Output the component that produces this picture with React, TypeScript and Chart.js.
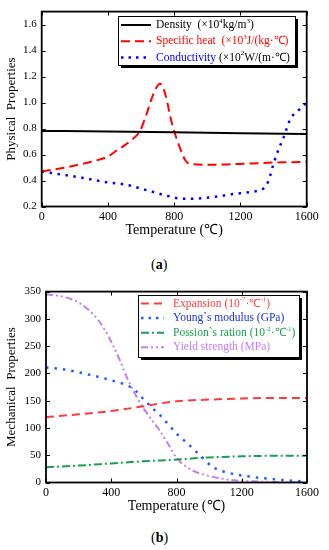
import React, { useEffect, useRef } from "react";
import { Chart, registerables } from "chart.js";

Chart.register(...registerables);

// ---------- data (a) ----------
const tempTicks = [0, 400, 800, 1200, 1600];
const yTicksA = [0.2, 0.4, 0.6, 0.8, 1.0, 1.2, 1.4, 1.6];

const densityT = [0, 400, 800, 1200, 1600];
const densityV = [0.782, 0.777, 0.771, 0.764, 0.758];

const specHeatT = [0, 100, 200, 300, 400, 462, 500, 550, 593, 630, 664, 690, 714, 745, 784, 835, 870, 900, 1000, 1100, 1200, 1300, 1400, 1500, 1600];
const specHeatV = [0.47, 0.49, 0.515, 0.545, 0.585, 0.64, 0.67, 0.72, 0.78, 0.9, 1.03, 1.11, 1.145, 1.07, 0.85, 0.65, 0.55, 0.527, 0.522, 0.523, 0.528, 0.533, 0.538, 0.541, 0.545];

const conductT = [0, 100, 250, 400, 500, 650, 750, 850, 950, 1050, 1150, 1250, 1300, 1340, 1370, 1400, 1430, 1460, 1500, 1550, 1600];
const conductV = [0.47, 0.45, 0.42, 0.385, 0.37, 0.32, 0.285, 0.26, 0.262, 0.275, 0.295, 0.31, 0.32, 0.34, 0.4, 0.53, 0.64, 0.73, 0.87, 0.94, 1.0];

// ---------- data (b) ----------
const yTicksB = [0, 50, 100, 150, 200, 250, 300, 350];

const expansionT = [0, 200, 400, 600, 700, 800, 1000, 1200, 1400, 1600];
const expansionV = [120, 125, 131, 140, 145, 149, 152, 154, 155, 155];

const youngT = [0, 100, 200, 330, 450, 500, 550, 600, 650, 700, 800, 880, 944, 1024, 1128, 1270, 1400, 1515, 1600];
const youngV = [211, 208, 202, 193, 183, 178, 168, 152, 137, 123, 90, 68, 50, 28, 17, 10, 6, 3, 2];

const poissonT = [0, 200, 400, 600, 800, 1000, 1200, 1400, 1600];
const poissonV = [28, 31, 35, 39, 42, 46, 48, 49, 49];

const yieldT = [0, 100, 200, 300, 350, 400, 450, 500, 550, 600, 650, 700, 750, 800, 900, 1000, 1100, 1200, 1400, 1600];
const yieldV = [345, 341, 330, 305, 285, 258, 226, 190, 160, 135, 114, 94, 70, 45, 22, 12, 6, 3, 1, 0];

const FONT = '"Liberation Serif", "Times New Roman", serif';

type Part = { t: string; color: string; sup?: boolean };
type LegendItem = { parts: Part[]; color: string; dash: number[]; width: number };

const legendA: LegendItem[] = [
  { parts: [{ t: "Density  (×10", color: "#000" }, { t: "4", color: "#000", sup: true }, { t: "kg/m", color: "#000" }, { t: "3", color: "#000", sup: true }, { t: ")", color: "#000" }], color: "#000", dash: [], width: 2 },
  { parts: [{ t: "Specific heat  (×10", color: "#ff0000" }, { t: "3", color: "#ff0000", sup: true }, { t: "J/(kg·℃)", color: "#ff0000" }], color: "#ff0000", dash: [9, 5], width: 2 },
  { parts: [{ t: "Conductivity", color: "#0000ff" }, { t: " (×10", color: "#000" }, { t: "2", color: "#000", sup: true }, { t: "W/(m·℃)", color: "#000" }], color: "#0000ff", dash: [2.5, 5], width: 2.5 },
];

const RED_B = "#ff3a3a";
const BLUE_B = "#1f5cff";
const GREEN_B = "#17a050";
const PURPLE_B = "#c67cf2";

const legendB: LegendItem[] = [
  { parts: [{ t: "Expansion (10", color: RED_B }, { t: "-7", color: RED_B, sup: true }, { t: "·℃", color: RED_B }, { t: "-1", color: RED_B, sup: true }, { t: ")", color: RED_B }], color: RED_B, dash: [8, 5], width: 2 },
  { parts: [{ t: "Young`s modulus (GPa)", color: "#1a2fe0" }], color: BLUE_B, dash: [2.5, 5], width: 2.5 },
  { parts: [{ t: "Possion`s ration (10", color: GREEN_B }, { t: "-2", color: GREEN_B, sup: true }, { t: "·℃", color: GREEN_B }, { t: "-1", color: GREEN_B, sup: true }, { t: ")", color: GREEN_B }], color: GREEN_B, dash: [8, 3, 2, 3], width: 2 },
  { parts: [{ t: "Yield strength (MPa)", color: PURPLE_B }], color: PURPLE_B, dash: [7, 3, 2, 3, 2, 3], width: 2 },
];

function pts(xs: number[], ys: number[]) {
  return xs.map((x, i) => ({ x, y: ys[i] }));
}

const framePlugin = {
  id: "frameTicks",
  afterDatasetsDraw(chart: any) {
    const { ctx, chartArea: a, scales } = chart;
    ctx.save();
    ctx.strokeStyle = "#000";
    ctx.lineWidth = 1;
    const L = 4;
    ctx.beginPath();
    scales.x.ticks.forEach((t: any) => {
      const px = Math.round(scales.x.getPixelForValue(t.value)) + 0.5;
      ctx.moveTo(px, a.bottom);
      ctx.lineTo(px, a.bottom - L);
      ctx.moveTo(px, a.top);
      ctx.lineTo(px, a.top + L);
    });
    scales.y.ticks.forEach((t: any) => {
      const py = Math.round(scales.y.getPixelForValue(t.value)) + 0.5;
      ctx.moveTo(a.left, py);
      ctx.lineTo(a.left + L, py);
      ctx.moveTo(a.right, py);
      ctx.lineTo(a.right - L, py);
    });
    ctx.stroke();
    ctx.lineWidth = 1.8;
    ctx.strokeRect(a.left, a.top, a.right - a.left, a.bottom - a.top);
    ctx.restore();
  },
};

function makeLegendPlugin(items: LegendItem[], box: { x: number; y: number; w: number; h: number; rowH: number; firstRow: number; lineX0: number; lineX1: number; textX: number; font: number }) {
  return {
    id: "customLegend",
    afterDraw(chart: any) {
      const ctx = chart.ctx;
      ctx.save();
      ctx.fillStyle = "#000";
      ctx.fillRect(box.x + 3, box.y + 3, box.w, box.h);
      ctx.fillStyle = "#fff";
      ctx.fillRect(box.x, box.y, box.w, box.h);
      ctx.strokeStyle = "#000";
      ctx.lineWidth = 1;
      ctx.strokeRect(box.x + 0.5, box.y + 0.5, box.w, box.h);
      items.forEach((it, i) => {
        const y = box.firstRow + i * box.rowH;
        ctx.beginPath();
        ctx.setLineDash(it.dash);
        ctx.strokeStyle = it.color;
        ctx.lineWidth = it.width;
        ctx.moveTo(box.lineX0, y);
        ctx.lineTo(box.lineX1, y);
        ctx.stroke();
        ctx.setLineDash([]);
        let x = box.textX;
        ctx.textBaseline = "middle";
        ctx.textAlign = "left";
        it.parts.forEach((p) => {
          const fs = p.sup ? Math.round(box.font * 0.62) : box.font;
          ctx.font = `${fs}px ${FONT}`;
          ctx.fillStyle = p.color;
          ctx.fillText(p.t, x, p.sup ? y - 4 : y);
          x += ctx.measureText(p.t).width;
        });
      });
      ctx.restore();
    },
  };
}

function ChartCanvas(props: { config: any; width: number; height: number; top: number }) {
  const ref = useRef<HTMLCanvasElement | null>(null);
  useEffect(() => {
    if (!ref.current) return;
    const chart = new Chart(ref.current, props.config);
    return () => chart.destroy();
  }, []);
  return (
    <canvas
      ref={ref}
      width={props.width}
      height={props.height}
      style={{ position: "absolute", left: 0, top: props.top, width: props.width, height: props.height }}
    />
  );
}

function baseOptions(opts: {
  yMin: number; yMax: number; yTicks: number[]; yTitle: string; yWidth: number; xHeight: number;
  padTop: number; padRight: number; xTitlePad: number; yFmt: (v: number) => string; yTitleSize: number;
}) {
  return {
    responsive: false,
    animation: false,
    devicePixelRatio: 1,
    layout: { padding: { top: opts.padTop, right: opts.padRight, left: 0, bottom: 0 } },
    plugins: { legend: { display: false }, tooltip: { enabled: false } },
    elements: { point: { radius: 0 }, line: { tension: 0 } },
    scales: {
      x: {
        type: "linear",
        min: 0,
        max: 1600,
        grid: { display: false, drawTicks: false },
        border: { display: false },
        afterBuildTicks: (s: any) => { s.ticks = tempTicks.map((v) => ({ value: v })); },
        afterFit: (s: any) => { s.height = opts.xHeight; },
        ticks: { autoSkip: false, maxRotation: 0, padding: 3, color: "#000", font: { family: FONT, size: 12 }, callback: (v: any) => String(v) },
        title: { display: true, text: "Temperature (℃)", color: "#000", font: { family: FONT, size: 14 }, padding: { top: 0, bottom: opts.xTitlePad } },
      },
      y: {
        type: "linear",
        min: opts.yMin,
        max: opts.yMax,
        grid: { display: false, drawTicks: false },
        border: { display: false },
        afterBuildTicks: (s: any) => { s.ticks = opts.yTicks.map((v) => ({ value: v })); },
        afterFit: (s: any) => { s.width = opts.yWidth; },
        ticks: { autoSkip: false, padding: 5, color: "#000", font: { family: FONT, size: 11 }, callback: (v: any) => opts.yFmt(Number(v)) },
        title: { display: true, text: opts.yTitle, color: "#000", font: { family: FONT, size: opts.yTitleSize }, padding: { top: 4, bottom: 0 } },
      },
    },
  };
}

const configA = {
  type: "line",
  data: {
    datasets: [
      { data: pts(densityT, densityV), borderColor: "#000", borderWidth: 2, cubicInterpolationMode: "monotone" },
      { data: pts(specHeatT, specHeatV), borderColor: "#ff0000", borderWidth: 2, borderDash: [9, 5], cubicInterpolationMode: "monotone" },
      { data: pts(conductT, conductV), borderColor: "#0000ff", borderWidth: 2.5, borderDash: [2.5, 5.5], cubicInterpolationMode: "monotone" },
    ],
  },
  options: baseOptions({
    yMin: 0.2, yMax: 1.7, yTicks: yTicksA, yTitle: "Physical  Properties", yWidth: 41.7, xHeight: 35.5,
    padTop: 10, padRight: 22.3, xTitlePad: 3.6, yFmt: (v) => v.toFixed(1), yTitleSize: 13,
  }),
  plugins: [
    framePlugin,
    makeLegendPlugin(legendA, { x: 118, y: 16, w: 177, h: 49, rowH: 16.3, firstRow: 25, lineX0: 121, lineX1: 151, textX: 156, font: 11.5 }),
  ],
};

const configB = {
  type: "line",
  data: {
    datasets: [
      { data: pts(expansionT, expansionV), borderColor: RED_B, borderWidth: 2, borderDash: [8, 5], cubicInterpolationMode: "monotone" },
      { data: pts(youngT, youngV), borderColor: BLUE_B, borderWidth: 2.5, borderDash: [2.5, 6], cubicInterpolationMode: "monotone" },
      { data: pts(poissonT, poissonV), borderColor: GREEN_B, borderWidth: 2, borderDash: [8, 3, 2, 3], cubicInterpolationMode: "monotone" },
      { data: pts(yieldT, yieldV), borderColor: PURPLE_B, borderWidth: 2, borderDash: [7, 3, 2, 3, 2, 3], cubicInterpolationMode: "monotone" },
    ],
  },
  options: baseOptions({
    yMin: 0, yMax: 350, yTicks: yTicksB, yTitle: "Mechanical  Properties", yWidth: 46, xHeight: 37.5,
    padTop: 9, padRight: 22, xTitlePad: 4.9, yFmt: (v) => String(Math.round(v)), yTitleSize: 13,
  }),
  plugins: [
    framePlugin,
    makeLegendPlugin(legendB, { x: 138, y: 15, w: 161, h: 62, rowH: 14.6, firstRow: 23.5, lineX0: 141, lineX1: 164, textX: 173, font: 11.5 }),
  ],
};

export default function App() {
  return (
    <div style={{ position: "absolute", left: 0, top: 0, width: 329, height: 550, background: "#fff", overflow: "hidden" }}>
      <ChartCanvas config={configA} width={329} height={242} top={0} />
      <div style={{ position: "absolute", left: 151, top: 256, fontFamily: FONT, fontSize: 14, lineHeight: "18px" }}>
        (<b>a</b>)
      </div>
      <ChartCanvas config={configB} width={329} height={240} top={280} />
      <div style={{ position: "absolute", left: 151, top: 529, fontFamily: FONT, fontSize: 14, lineHeight: "18px" }}>
        (<b>b</b>)
      </div>
    </div>
  );
}
